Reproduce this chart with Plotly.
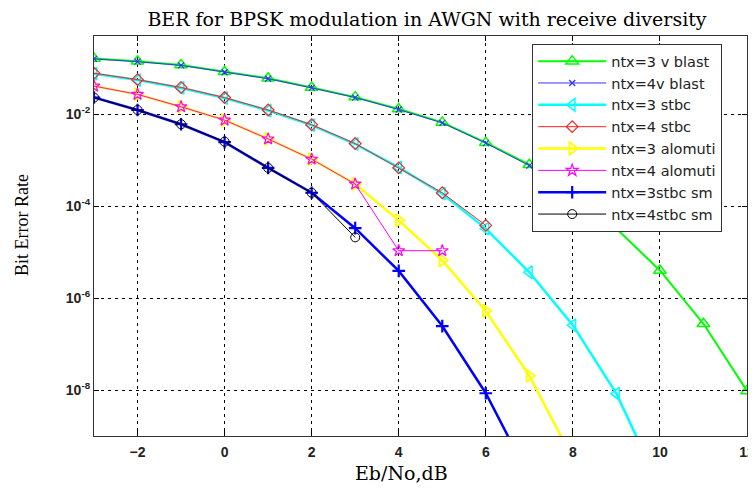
import plotly.graph_objects as go

# Eb/No (dB) points for each series
ebno_vblast3 = [-3, -2, -1, 0, 1, 2, 3, 4, 5, 6, 7, 8, 9, 10, 11, 12]
ber_vblast3 = [10**v for v in [-0.79, -0.85, -0.93, -1.08, -1.22, -1.42, -1.63, -1.89, -2.18, -2.62, -3.10, -3.75, -4.49, -5.40, -6.56, -8.02]]

ebno_vblast4 = [-3, -2, -1, 0, 1, 2, 3, 4, 5, 6, 7, 8]
ber_vblast4 = [10**v for v in [-0.80, -0.86, -0.94, -1.09, -1.23, -1.43, -1.64, -1.90, -2.19, -2.63, -3.12, -3.77]]

ebno_stbc3 = [-3, -2, -1, 0, 1, 2, 3, 4, 5, 6, 7, 8, 9, 10]
ber_stbc3 = [10**v for v in [-1.12, -1.26, -1.43, -1.65, -1.92, -2.24, -2.65, -3.16, -3.73, -4.49, -5.44, -6.59, -8.08, -10.1]]

ebno_stbc4 = [-3, -2, -1, 0, 1, 2, 3, 4, 5, 6]
ber_stbc4 = [10**v for v in [-1.11, -1.25, -1.42, -1.64, -1.91, -2.23, -2.64, -3.17, -3.71, -4.42]]

ebno_alam3 = [-3, -2, -1, 0, 1, 2, 3, 4, 5, 6, 7, 8]
ber_alam3 = [10**v for v in [-1.39, -1.57, -1.84, -2.13, -2.54, -2.98, -3.52, -4.31, -5.18, -6.28, -7.69, -9.5]]

ebno_alam4 = [-3, -2, -1, 0, 1, 2, 3, 4, 5]
ber_alam4 = [10**v for v in [-1.39, -1.57, -1.84, -2.13, -2.54, -2.98, -3.52, -4.97, -4.97]]

ebno_sm3 = [-3, -2, -1, 0, 1, 2, 3, 4, 5, 6, 7]
ber_sm3 = [10**v for v in [-1.64, -1.91, -2.22, -2.61, -3.17, -3.71, -4.48, -5.41, -6.61, -8.07, -9.9]]

ebno_sm4 = [-3, -2, -1, 0, 1, 2, 3]
ber_sm4 = [10**v for v in [-1.64, -1.91, -2.22, -2.60, -3.17, -3.71, -4.68]]

names = ["ntx=3 v blast", "ntx=4v blast", "ntx=3 stbc", "ntx=4 stbc",
         "ntx=3 alomuti", "ntx=4 alomuti", "ntx=3stbc sm", "ntx=4stbc sm"]

xticks = [-2, 0, 2, 4, 6, 8, 10, 12]
yticks = [1e-8, 1e-6, 1e-4, 1e-2]
yticklabels = ["10<sup>-8</sup>", "10<sup>-6</sup>", "10<sup>-4</sup>", "10<sup>-2</sup>"]

series = [
    (ebno_vblast3, ber_vblast3, "#00ff00", 2, "triangle-up-open", 11, 1.5),
    (ebno_vblast4, ber_vblast4, "#3333ff", 1, "x-thin-open", 6, 1.2),
    (ebno_stbc3, ber_stbc3, "#00ffff", 2.5, "triangle-left-open", 11, 1.5),
    (ebno_stbc4, ber_stbc4, "#ff2020", 1, "diamond-open", 9, 1.2),
    (ebno_alam3, ber_alam3, "#ffff00", 2.5, "triangle-right-open", 11, 1.8),
    (ebno_alam4, ber_alam4, "#ff00ff", 1, "star-open", 9, 1.2),
    (ebno_sm3, ber_sm3, "#0000ff", 2.5, "cross-thin-open", 9, 2.2),
    (ebno_sm4, ber_sm4, "#000000", 1, "circle-open", 9, 1),
]

fig = go.Figure()
for (xs, ys, col, lw, sym, ms, mlw), nm in zip(series, names):
    fig.add_trace(go.Scatter(
        x=xs, y=ys, mode="lines+markers", name=nm,
        line=dict(color=col, width=lw),
        marker=dict(symbol=sym, size=ms, color=col, line=dict(color=col, width=mlw)),
    ))

axis_common = dict(
    showline=True, linecolor="#333333", linewidth=1.2, mirror="ticks",
    ticks="inside", ticklen=5, tickcolor="black",
    showgrid=True, gridcolor="black", gridwidth=1, griddash="3px,4px",
    zeroline=False, automargin=False, ticklabeloverflow="allow",
    tickfont=dict(family="Liberation Sans", size=14, color="#222222", weight="bold"),
)

fig.update_xaxes(range=[-3, 12], tickvals=xticks, ticklabelstandoff=3, **axis_common)
fig.update_yaxes(type="log", range=[-9, -0.301], tickvals=yticks, ticktext=yticklabels, **axis_common)

W = 764
H = 481
fig.update_layout(
    width=W, height=H,
    margin=dict(l=86, r=W - 86 - 653, t=28, b=H - 28 - 400),
    paper_bgcolor="white", plot_bgcolor="white",
    title=dict(text="BER for BPSK modulation in AWGN with receive diversity",
               font=dict(family="DejaVu Serif", size=19, color="black"),
               x=419 / W, xanchor="center", y=1 - 11 / H, yanchor="middle"),
    legend=dict(x=(532 - 94) / 653, y=(436 - 44) / 400, xanchor="left", yanchor="top",
                bgcolor="white", bordercolor="#333333", borderwidth=1.2,
                font=dict(family="DejaVu Sans", size=14.5, color="#222222"),
                tracegroupgap=0, itemwidth=68),
    showlegend=True,
    annotations=[
        dict(text="Eb/No,dB", xref="paper", yref="paper", x=(401 - 94) / 653, y=(436 - 473) / 400,
             showarrow=False, xanchor="center", yanchor="middle",
             font=dict(family="DejaVu Serif", size=19, color="black")),
        dict(text="Bit Error Rate", xref="paper", yref="paper", x=(22 - 94) / 653, y=(436 - 225) / 400,
             showarrow=False, xanchor="center", yanchor="middle", textangle=-90,
             font=dict(family="Liberation Serif", size=18, color="black")),
    ],
)

fig.write_html("out.html")
